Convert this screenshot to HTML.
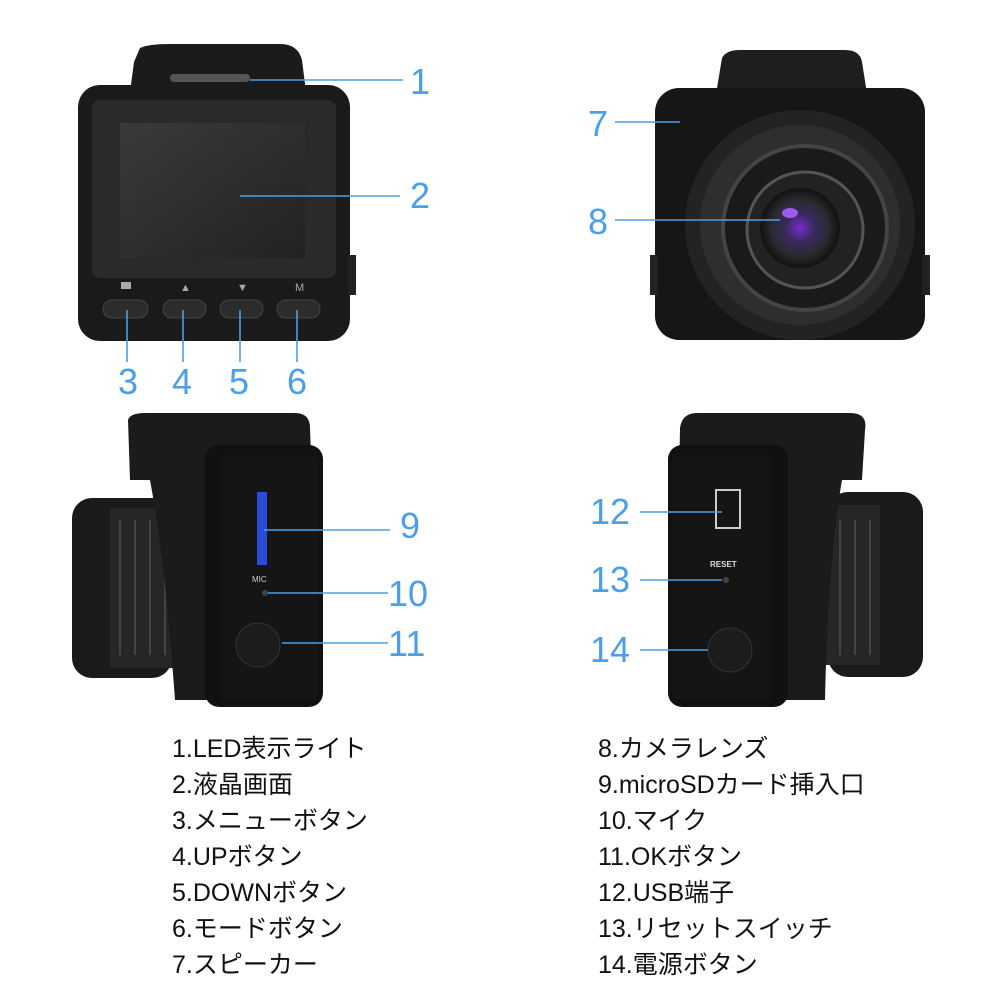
<!DOCTYPE html>
<html><head><meta charset="utf-8"><style>
html,body{margin:0;padding:0;background:#fff;}
svg{display:block}
.n{font-family:"Liberation Sans","DejaVu Sans",sans-serif;font-size:36px;fill:#4a9fe8;}
.t{font-family:"Liberation Sans","Noto Sans CJK JP",sans-serif;font-size:25px;fill:#111;}
.l{stroke:#4a9fe8;stroke-width:1.6;fill:none}
</style></head><body>
<svg width="1000" height="1000" viewBox="0 0 1000 1000" xmlns="http://www.w3.org/2000/svg">
<defs>
<radialGradient id="lens" cx="0.5" cy="0.5" r="0.5">
<stop offset="0" stop-color="#7a2ad0"/><stop offset="0.35" stop-color="#3a2a60"/><stop offset="0.7" stop-color="#2a2a30"/><stop offset="1" stop-color="#111"/></radialGradient>
<linearGradient id="scr" x1="0" y1="0" x2="1" y2="1"><stop offset="0" stop-color="#3a3a3a"/><stop offset="1" stop-color="#222"/></linearGradient>
</defs>
<!-- Top-left front -->
<path d="M140,48 Q148,44 170,44 L280,44 Q298,44 302,60 L306,92 L130,92 L134,62 Z" fill="#1b1b1b"/>
<rect x="170" y="74" width="80" height="8" rx="4" fill="#555"/>
<rect x="78" y="85" width="272" height="256" rx="22" fill="#1a1a1a"/>
<rect x="92" y="100" width="244" height="178" rx="8" fill="#2a2a2a"/>
<rect x="120" y="123" width="185" height="135" fill="url(#scr)"/>
<rect x="348" y="255" width="8" height="40" fill="#222"/>
<g fill="#2c2c2c" stroke="#444">
<rect x="103" y="300" width="45" height="18" rx="9"/><rect x="163" y="300" width="43" height="18" rx="9"/>
<rect x="220" y="300" width="43" height="18" rx="9"/><rect x="277" y="300" width="43" height="18" rx="9"/></g>
<g fill="#aaa" font-family="Liberation Sans" font-size="11"><rect x="121" y="282" width="10" height="7"/><text x="180" y="291">▲</text><text x="237" y="291">▼</text><text x="295" y="291">M</text></g>
<path class="l" d="M250,80H403M240,196H400M127,310V362M183,310V362M240,310V362M297,310V362"/>
<text class="n" x="410" y="94">1</text><text class="n" x="410" y="208">2</text>
<text class="n" x="118" y="394">3</text><text class="n" x="172" y="394">4</text><text class="n" x="229" y="394">5</text><text class="n" x="287" y="394">6</text>
<!-- Top-right back -->
<path d="M715,100 L722,58 Q726,50 740,50 L845,50 Q860,50 862,62 L868,100 Z" fill="#1e1e1e"/>
<rect x="655" y="88" width="270" height="252" rx="24" fill="#161616"/>
<rect x="650" y="255" width="8" height="40" fill="#222"/><rect x="922" y="255" width="8" height="40" fill="#222"/>
<circle cx="800" cy="225" r="115" fill="#232323"/>
<circle cx="800" cy="225" r="100" fill="#2e2e2e"/>
<circle cx="805" cy="228" r="82" fill="#1a1a1a" stroke="#444" stroke-width="4"/>
<circle cx="805" cy="230" r="58" fill="#222" stroke="#555" stroke-width="3"/>
<circle cx="800" cy="228" r="40" fill="url(#lens)"/>
<ellipse cx="790" cy="213" rx="8" ry="5" fill="#9a5cf0"/>
<path class="l" d="M615,122H680M615,220H780"/>
<text class="n" x="588" y="136">7</text><text class="n" x="588" y="234">8</text>
<!-- Bottom-left side -->
<rect x="72" y="498" width="100" height="180" rx="20" fill="#1a1a1a"/>
<rect x="110" y="508" width="90" height="160" fill="#262626"/>
<g stroke="#444" stroke-width="2"><path d="M120,520V655M135,520V655M150,520V655M165,520V655"/></g>
<path d="M128,420 Q130,413 145,413 L295,413 Q310,413 310,428 L320,700 L175,700 Q165,560 150,480 L130,480 Z" fill="#1b1b1b"/>
<rect x="205" y="445" width="118" height="262" rx="14" fill="#111"/>
<rect x="220" y="455" width="98" height="245" rx="8" fill="#151515"/>
<rect x="257" y="492" width="10" height="73" fill="#2a4ad8"/>
<text x="252" y="582" font-family="Liberation Sans" font-size="8" fill="#ccc">MIC</text>
<circle cx="265" cy="593" r="3" fill="#444"/>
<circle cx="258" cy="645" r="22" fill="#1c1c1c" stroke="#333"/>
<path class="l" d="M264,530H390M268,593H388M282,643H388"/>
<text class="n" x="400" y="538">9</text><text class="n" x="388" y="606">10</text><text class="n" x="388" y="656">11</text>
<!-- Bottom-right side -->
<rect x="828" y="492" width="95" height="185" rx="20" fill="#1a1a1a"/>
<rect x="800" y="505" width="80" height="160" fill="#262626"/>
<g stroke="#444" stroke-width="2"><path d="M840,520V655M855,520V655M870,520V655"/></g>
<path d="M680,428 Q682,413 697,413 L850,413 Q868,413 865,430 L862,480 L842,480 Q828,560 825,700 L675,700 Z" fill="#1b1b1b"/>
<rect x="668" y="445" width="120" height="262" rx="14" fill="#111"/>
<rect x="672" y="455" width="100" height="245" rx="8" fill="#151515"/>
<path d="M716,490 H740 V528 H716 Z" fill="none" stroke="#ccc" stroke-width="2"/>
<text x="710" y="567" font-family="Liberation Sans" font-size="8" font-weight="bold" fill="#ddd">RESET</text>
<circle cx="726" cy="580" r="3" fill="#444"/>
<circle cx="730" cy="650" r="22" fill="#1c1c1c" stroke="#333"/>
<path class="l" d="M640,512H722M640,580H722M640,650H708"/>
<text class="n" x="590" y="524">12</text><text class="n" x="590" y="592">13</text><text class="n" x="590" y="662">14</text>
<!-- Text list -->
<g class="t">
<text x="172" y="757">1.LED表示ライト</text><text x="172" y="793">2.液晶画面</text><text x="172" y="829">3.メニューボタン</text>
<text x="172" y="865">4.UPボタン</text><text x="172" y="901">5.DOWNボタン</text><text x="172" y="937">6.モードボタン</text><text x="172" y="973">7.スピーカー</text>
<text x="598" y="757">8.カメラレンズ</text><text x="598" y="793">9.microSDカード挿入口</text><text x="598" y="829">10.マイク</text>
<text x="598" y="865">11.OKボタン</text><text x="598" y="901">12.USB端子</text><text x="598" y="937">13.リセットスイッチ</text><text x="598" y="973">14.電源ボタン</text>
</g>
</svg>
</body></html>
